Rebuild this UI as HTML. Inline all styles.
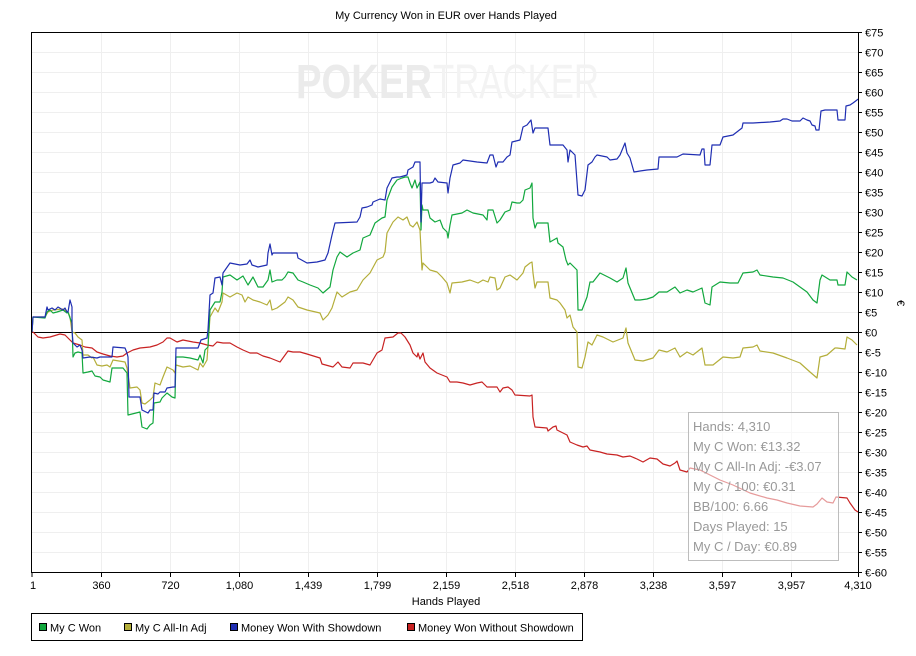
<!DOCTYPE html>
<html><head><meta charset="utf-8"><style>
html,body{margin:0;padding:0;background:#fff;}
svg{display:block;font-family:"Liberation Sans",sans-serif;}
</style></head><body>
<svg width="916" height="656" viewBox="0 0 916 656" xmlns="http://www.w3.org/2000/svg">
<rect width="916" height="656" fill="#fff"/>
<text x="446" y="19" font-size="11" text-anchor="middle" fill="#000">My Currency Won in EUR over Hands Played</text>
<!-- grid -->
<g stroke="#efefef" stroke-width="1">
<path d="M32 52.5H858M32 72.5H858M32 92.5H858M32 112.5H858M32 132.5H858M32 152.5H858M32 172.5H858M32 192.5H858M32 212.5H858M32 232.5H858M32 252.5H858M32 272.5H858M32 292.5H858M32 312.5H858M32 352.5H858M32 372.5H858M32 392.5H858M32 412.5H858M32 432.5H858M32 452.5H858M32 472.5H858M32 492.5H858M32 512.5H858M32 532.5H858M32 552.5H858"/>
<path d="M101.5 32V572M170.5 32V572M239.5 32V572M308.5 32V572M377.5 32V572M446.5 32V572M515.5 32V572M584.5 32V572M653.5 32V572M722.5 32V572M791.5 32V572"/>
</g>
<!-- watermark -->
<text x="296" y="98" font-size="48" font-weight="bold" fill="#ebebeb" textLength="136" lengthAdjust="spacingAndGlyphs">POKER</text>
<text x="433" y="98" font-size="48" fill="#f3f3f3" textLength="166" lengthAdjust="spacingAndGlyphs">TRACKER</text>
<!-- zero line -->
<path d="M32 332.5H858" stroke="#000" stroke-width="1"/>
<g fill="none" stroke-width="1.2" stroke-linejoin="round">
<polyline stroke="#c82222" points="32,332 33,332 38,337 43,338 50,337 60,334 65,335 70,340 73,343 80,345 85,347 92,348 97,352 103,354 110,356 117,357 123,356 127,353 133,350 140,348 150,347 157,345 163,342 167,338 170,338 177,342 183,340 193,342 200,343 207,345 213,346 217,342 223,343 230,343 237,347 243,350 250,353 257,353 263,356 270,358 280,362 288,351 293,352 300,352 307,354 320,358 322,364 333,367 338,362 342,367 350,368 353,363 363,363 370,365 377,353 382,350 385,338 393,337 398,333 401,333 405,337 410,345 413,353 417,357 418,353 420,359 423,353 425,362 430,368 437,373 447,377 450,382 457,382 463,383 470,385 477,383 482,382 487,387 497,387 500,392 503,388 508,387 512,390 515,395 530,396 532,395 533,417 535,427 547,428 548,431 553,427 556,426 557,430 563,433 567,435 570,442 577,445 583,447 587,446 590,450 600,452 607,454 617,455 623,457 630,456 637,459 643,462 650,458 657,459 663,464 670,466 675,463 677,461 680,470 687,472 690,468 700,470 710,475 720,480 733,485 750,493 767,498 777,500 787,503 800,506 813,507 817,504 822,498 827,502 833,503 836,497 847,498 850,503 855,510 858,512"/>
<polyline stroke="#b4ae3a" points="32,332 33,317 45,317 48,312 53,310 63,309 68,312 70,317 72,332 75,333 78,337 82,340 83,355 88,355 92,358 93,357 97,365 102,366 107,365 110,367 113,360 125,362 127,368 130,388 137,387 140,390 142,403 145,404 150,400 153,397 155,383 160,385 163,377 167,367 173,370 175,373 176,365 183,367 190,366 198,370 200,363 203,367 207,360 210,317 215,308 218,312 222,302 223,293 230,297 237,293 242,295 245,302 248,297 253,300 260,302 267,305 270,300 272,310 277,308 285,302 288,297 293,300 298,307 307,310 320,313 323,320 328,315 332,308 337,292 342,297 350,292 357,290 363,280 370,273 377,260 383,257 385,252 387,233 393,222 398,217 403,220 407,217 410,225 413,227 417,222 420,230 422,270 423,263 430,270 437,272 442,277 447,283 450,293 452,283 462,282 470,280 478,283 483,280 488,282 490,277 495,278 497,290 500,288 505,277 510,275 517,280 523,273 525,267 530,263 532,262 533,273 535,288 537,282 548,282 550,298 557,300 560,303 565,310 567,318 570,315 573,327 577,332 578,367 582,368 585,357 588,342 592,345 597,335 603,337 613,342 623,338 626,328 628,343 635,360 643,361 653,358 659,350 667,352 675,348 680,357 687,352 693,355 702,348 705,365 713,365 723,357 733,358 740,357 743,348 753,347 757,345 760,351 773,353 787,358 800,363 810,372 817,378 820,357 827,355 835,348 837,348 845,349 847,337 852,340 857,345"/>
<polyline stroke="#12a83e" points="32,332 33,317 45,318 47,312 50,310 53,313 57,312 63,310 67,313 68,312 70,318 72,323 73,357 75,353 78,352 82,353 83,373 88,372 92,371 95,376 100,377 103,380 110,382 112,368 123,368 127,373 128,415 140,412 142,427 147,429 150,425 153,423 154,403 160,402 162,398 167,393 172,397 175,398 176,357 183,357 190,358 198,360 200,355 203,363 205,350 208,347 210,310 215,302 220,302 222,292 223,277 230,275 237,280 243,276 248,285 253,277 258,287 263,287 268,280 270,270 272,282 277,280 282,280 285,277 288,272 293,273 298,280 303,282 310,285 318,288 323,293 330,287 333,270 337,257 340,252 347,257 353,253 360,250 363,238 370,235 375,223 382,218 385,217 387,200 392,187 397,180 402,178 405,177 408,177 410,183 412,188 415,180 417,188 420,182 421,230 422,205 423,210 428,210 430,218 435,222 440,220 443,228 447,232 448,238 450,225 452,215 462,213 467,210 473,213 483,215 487,220 488,210 493,210 497,223 500,220 505,212 510,210 512,202 517,203 520,203 523,200 525,190 530,188 532,183 533,218 535,228 537,223 548,223 550,242 557,238 558,243 563,247 566,260 568,265 570,263 577,270 578,310 582,310 587,297 590,282 593,282 600,273 610,278 617,282 623,278 626,268 628,283 635,300 640,300 647,299 653,297 659,292 667,292 675,287 680,293 687,290 693,292 702,288 705,303 710,305 712,287 720,282 730,283 738,283 743,273 753,272 757,270 760,275 773,277 783,278 793,282 800,287 807,292 813,300 817,303 820,280 822,275 830,280 837,280 838,285 845,285 847,272 852,277 857,280"/>
<polyline stroke="#1f2eb2" points="32,332 33,317 45,317 47,307 48,310 52,308 55,310 58,307 63,310 65,308 67,312 68,312 70,300 72,307 72,330 73,343 77,347 80,345 82,350 83,358 90,357 97,358 100,357 107,357 112,357 113,347 125,348 127,353 128,357 129,397 140,397 142,410 148,413 150,410 153,410 154,393 158,394 160,392 165,392 167,388 173,387 175,387 176,348 183,348 198,348 201,340 207,338 208,330 210,295 213,293 215,278 220,277 222,285 223,273 230,263 240,265 247,264 250,260 252,265 258,267 267,265 268,253 270,244 272,255 273,253 297,253 298,258 307,263 317,262 325,260 328,253 332,235 335,223 357,222 360,217 362,208 367,207 372,205 373,202 380,199 385,200 387,188 392,178 397,177 400,177 407,175 408,170 413,167 415,162 420,162 421,222 422,183 430,183 433,182 435,178 438,182 447,183 448,193 450,178 453,165 460,163 463,160 477,162 487,163 490,155 493,155 496,167 498,162 503,162 507,157 510,155 512,142 520,140 523,127 527,125 531,120 533,133 535,128 548,128 550,145 563,145 567,150 568,162 570,150 572,152 575,155 578,195 582,196 585,190 588,165 592,162 595,157 597,155 607,157 610,160 617,159 620,155 625,143 627,153 630,158 634,172 640,171 647,170 658,169 659,157 677,157 683,154 700,155 702,149 704,149 705,165 710,165 712,145 720,145 723,137 733,135 742,128 743,123 753,123 770,122 780,121 783,119 787,119 792,121 800,121 803,118 807,120 810,121 812,125 815,126 816,130 819,130 821,111 825,110 837,110 838,120 845,120 846,106 850,105 853,103 857,100 858,99"/>
</g>
<!-- frame -->
<rect x="31.5" y="32.5" width="827" height="540" fill="none" stroke="#000" stroke-width="1"/>
<!-- y ticks -->
<g stroke="#000" stroke-width="1">
<path d="M858 32.5h4M858 52.5h4M858 72.5h4M858 92.5h4M858 112.5h4M858 132.5h4M858 152.5h4M858 172.5h4M858 192.5h4M858 212.5h4M858 232.5h4M858 252.5h4M858 272.5h4M858 292.5h4M858 312.5h4M858 332.5h4M858 352.5h4M858 372.5h4M858 392.5h4M858 412.5h4M858 432.5h4M858 452.5h4M858 472.5h4M858 492.5h4M858 512.5h4M858 532.5h4M858 552.5h4M858 572.5h4"/>
<path d="M32 572v5M101.5 572v5M170.5 572v5M239.5 572v5M308.5 572v5M377.5 572v5M446.5 572v5M515.5 572v5M584.5 572v5M653.5 572v5M722.5 572v5M791.5 572v5M858.5 572v5"/>
</g>
<g font-size="11" fill="#000">
<text x="865" y="36.5">€75</text><text x="865" y="56.5">€70</text><text x="865" y="76.5">€65</text><text x="865" y="96.5">€60</text><text x="865" y="116.5">€55</text><text x="865" y="136.5">€50</text><text x="865" y="156.5">€45</text><text x="865" y="176.5">€40</text><text x="865" y="196.5">€35</text><text x="865" y="216.5">€30</text><text x="865" y="236.5">€25</text><text x="865" y="256.5">€20</text><text x="865" y="276.5">€15</text><text x="865" y="296.5">€10</text><text x="865" y="316.5">€5</text><text x="865" y="336.5">€0</text><text x="865" y="356.5">€-5</text><text x="865" y="376.5">€-10</text><text x="865" y="396.5">€-15</text><text x="865" y="416.5">€-20</text><text x="865" y="436.5">€-25</text><text x="865" y="456.5">€-30</text><text x="865" y="476.5">€-35</text><text x="865" y="496.5">€-40</text><text x="865" y="516.5">€-45</text><text x="865" y="536.5">€-50</text><text x="865" y="556.5">€-55</text><text x="865" y="576.5">€-60</text>
</g>
<g font-size="11" fill="#000" text-anchor="middle">
<text x="33" y="589">1</text><text x="101.5" y="589">360</text><text x="170.5" y="589">720</text><text x="239.5" y="589">1,080</text><text x="308.5" y="589">1,439</text><text x="377.5" y="589">1,799</text><text x="446.5" y="589">2,159</text><text x="515.5" y="589">2,518</text><text x="584.5" y="589">2,878</text><text x="653.5" y="589">3,238</text><text x="722.5" y="589">3,597</text><text x="791.5" y="589">3,957</text><text x="858" y="589">4,310</text>
<text x="446" y="605">Hands Played</text>
</g>
<text x="0" y="0" font-size="11" fill="#000" text-anchor="middle" transform="translate(897 303) rotate(90)">€</text>
<!-- info box -->
<rect x="688.5" y="412.5" width="150" height="148" fill="#fff" fill-opacity="0.55" stroke="#bdbdbd" stroke-width="1"/>
<g font-size="13" fill="#999">
<text x="693" y="431">Hands: 4,310</text>
<text x="693" y="451">My C Won: €13.32</text>
<text x="693" y="471">My C All-In Adj: -€3.07</text>
<text x="693" y="491">My C / 100: €0.31</text>
<text x="693" y="511">BB/100: 6.66</text>
<text x="693" y="531">Days Played: 15</text>
<text x="693" y="551">My C / Day: €0.89</text>
</g>
<!-- legend -->
<rect x="31.5" y="613.5" width="551" height="27" fill="#fff" stroke="#000" stroke-width="1"/>
<g stroke="#000" stroke-width="1">
<rect x="39.5" y="623.5" width="7" height="7" fill="#12a83e"/>
<rect x="124.5" y="623.5" width="7" height="7" fill="#b4ae3a"/>
<rect x="230.5" y="623.5" width="7" height="7" fill="#1f2eb2"/>
<rect x="407.5" y="623.5" width="7" height="7" fill="#c82222"/>
</g>
<g font-size="11" fill="#000">
<text x="50" y="631.5">My C Won</text>
<text x="135" y="631.5">My C All-In Adj</text>
<text x="241" y="631.5">Money Won With Showdown</text>
<text x="418" y="631.5">Money Won Without Showdown</text>
</g>
</svg>
</body></html>
